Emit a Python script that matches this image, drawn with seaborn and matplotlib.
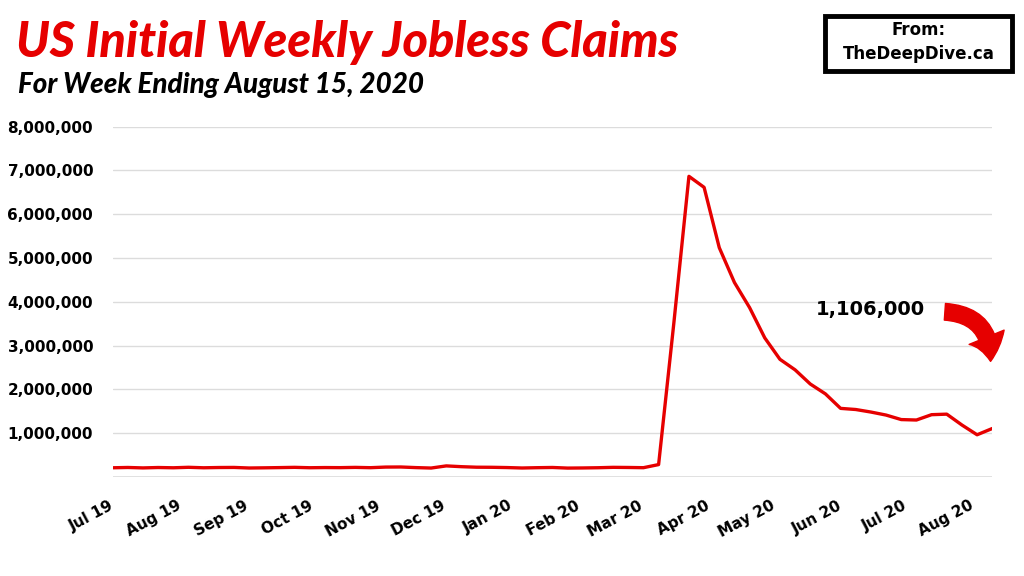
import numpy as np
import pandas as pd
import matplotlib.pyplot as plt
from matplotlib.patches import FancyArrowPatch, Rectangle
from matplotlib.ticker import FuncFormatter
import seaborn as sns

# -------------------------------
# Data (weekly initial claims, week ending Saturday)
# -------------------------------
start_week = "2019-07-06"
claims = [
    209000, 216000, 206000, 215000, 209000, 220000, 209000, 215000, 217000,
    204000, 208000, 213000, 219000, 210000, 214000, 212000, 218000, 211000,
    225000, 227000, 213000, 203000, 252000, 234000, 222000, 220000,
    214000, 204000, 211000, 216000, 202000, 205000, 210000, 219000, 216000,
    211000, 282000, 3500000, 6867000, 6615000, 5237000, 4442000, 3867000,
    3176000, 2687000, 2446000, 2123000, 1897000, 1566000, 1540000, 1482000,
    1413000, 1310000, 1300000, 1422000, 1434000, 1186000, 963000, 1106000,
]
weeks = pd.date_range(start_week, periods=len(claims), freq="7D")
month_labels = ["Jul 19", "Aug 19", "Sep 19", "Oct 19", "Nov 19", "Dec 19",
                "Jan 20", "Feb 20", "Mar 20", "Apr 20", "May 20", "Jun 20",
                "Jul 20", "Aug 20"]
y_ticks = [1000000, 2000000, 3000000, 4000000, 5000000, 6000000, 7000000, 8000000]
latest_label = "1,106,000"

df = pd.DataFrame({"Week": weeks, "Claims": claims})

# -------------------------------
# Plot
# -------------------------------
sns.set_style("white")
plt.rcParams["font.family"] = ["Lato", "DejaVu Sans"]
plt.rcParams["text.color"] = "black"
plt.rcParams["xtick.color"] = "black"
plt.rcParams["ytick.color"] = "black"
RED = "#e60000"

fig = plt.figure(figsize=(10.24, 5.76), dpi=100)
ax = fig.add_axes([0.110, 0.172, 0.859, 0.608])

sns.lineplot(data=df, x="Week", y="Claims", ax=ax, color=RED, linewidth=2.4)

ax.set_xlim(weeks[0], weeks[-1])
ax.set_ylim(0, 8000000)
ax.set_yticks(y_ticks)
ax.yaxis.set_major_formatter(FuncFormatter(lambda v, p: f"{int(v):,}"))
ax.grid(axis="y", color="#dcdcdc", linewidth=1)
ax.axhline(0, color="#dcdcdc", linewidth=1.2)
for s in ax.spines.values():
    s.set_visible(False)

# month ticks (labels sit a few days into each month)
tick_pos = pd.DatetimeIndex([d.replace(day=6) for d in
                             pd.date_range("2019-07-01", periods=len(month_labels), freq="MS")])
ax.set_xticks(tick_pos)
ax.set_xticklabels(month_labels, rotation=28, ha="right", va="center",
                   rotation_mode="anchor", fontsize=11, fontweight="bold",
                   family="DejaVu Sans", color="black")
ax.tick_params(axis="x", length=0, pad=20)
ax.tick_params(axis="y", length=0, pad=14)
for t in ax.get_yticklabels():
    t.set_fontweight("bold")
    t.set_family("DejaVu Sans")
    t.set_fontsize(11)
    t.set_color("black")
ax.set_xlabel("")
ax.set_ylabel("")

# annotation
ax.text(0.924, 0.477, latest_label, transform=ax.transAxes, ha="right", va="center",
        fontsize=14, fontweight="bold", family="DejaVu Sans", color="black")
arrow = FancyArrowPatch((0.943, 0.472), (0.998, 0.322), transform=ax.transAxes,
                        connectionstyle="arc3,rad=-0.5",
                        arrowstyle="simple,head_length=1.1,head_width=1.7,tail_width=0.75",
                        mutation_scale=16, color=RED, clip_on=False)
ax.add_patch(arrow)

# titles
fig.text(0.016, 0.926, "US Initial Weekly Jobless Claims", color=RED,
         fontsize=35, fontweight="black", style="italic", va="center")
fig.text(0.018, 0.852, "For Week Ending August 15, 2020", color="black",
         fontsize=20, fontweight="black", style="italic", va="center")

# source box
fig.patches.append(Rectangle((0.806, 0.877), 0.182, 0.096, transform=fig.transFigure,
                             fill=False, edgecolor="black", linewidth=3.5))
fig.text(0.897, 0.948, "From:", ha="center", va="center", fontsize=12,
         fontweight="bold", family="DejaVu Sans", color="black")
fig.text(0.897, 0.906, "TheDeepDive.ca", ha="center", va="center", fontsize=12,
         fontweight="bold", family="DejaVu Sans", color="black")

fig.savefig("out.png", dpi=100)
